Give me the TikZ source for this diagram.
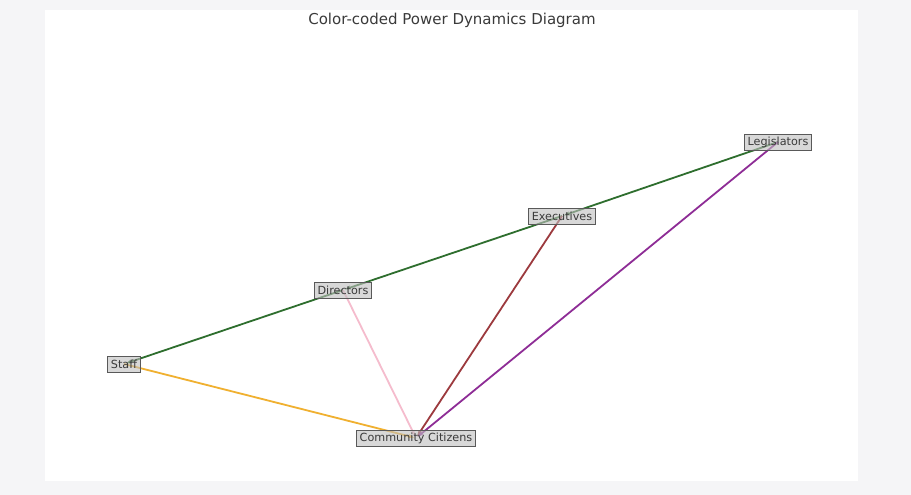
\documentclass[tikz,border=0pt]{standalone}
\usepackage{fontspec}
\setmainfont{DejaVu Sans}
\usepackage{tikz}
\usetikzlibrary{arrows.meta}
\usepackage{xcolor}
\definecolor{pagegrey}{HTML}{F5F5F7}
\definecolor{labelgrey}{HTML}{3A3A3A}
\definecolor{powergreen}{HTML}{2E6E2E}
\definecolor{powerorange}{HTML}{F0B030}
\definecolor{powerpink}{HTML}{F5BCCD}
\definecolor{powerbrown}{HTML}{9C3A3E}
\definecolor{powerpurple}{HTML}{8E2D96}

\begin{document}
\begin{tikzpicture}[x=1pt, y=-1pt,
  actor/.style={draw=black!65, fill=black!25, fill opacity=0.6, text opacity=1,
                text=labelgrey, font=\fontsize{11.2}{12}\selectfont,
                inner xsep=3pt, inner ysep=0pt, minimum height=16pt, line width=1pt},
  link/.style={-{Stealth[length=6pt, width=4pt]}, line width=1.8pt, shorten >=2pt}
]
  %% Canvas
  \useasboundingbox (0,0) rectangle (911,495);
  \fill[pagegrey] (0,0) rectangle (911,495);
  \fill[white] (45,10) rectangle (858,481);

  %% Title
  \node[text=labelgrey, font=\fontsize{15}{17}\selectfont] (title) at (452,20)
    {Color-coded Power Dynamics Diagram};

  %% Anchor points for the actors
  \coordinate (pstaff) at (124,364);
  \coordinate (pcitizens) at (416,438);
  \coordinate (pdirectors) at (343,290);
  \coordinate (pexecutives) at (562,216);
  \coordinate (plegislators) at (778,142);

  %% Links
  \draw[link, powergreen] (plegislators) -- (pexecutives);
  \draw[link, powergreen] (pexecutives) -- (pdirectors);
  \draw[link, powergreen] (pdirectors) -- (pstaff);
  \draw[link, powerorange] (pstaff) -- (pcitizens);
  \draw[link, powerpink] (pdirectors) -- (pcitizens);
  \draw[link, powerbrown] (pexecutives) -- (pcitizens);
  \draw[link, powerpurple] (plegislators) -- (pcitizens);

  %% Actors
  \node[actor] (staff) at (pstaff) {Staff};
  \node[actor] (citizens) at (pcitizens) {Community Citizens};
  \node[actor] (directors) at (pdirectors) {Directors};
  \node[actor] (executives) at (pexecutives) {Executives};
  \node[actor] (legislators) at (plegislators) {Legislators};
\end{tikzpicture}
\end{document}
